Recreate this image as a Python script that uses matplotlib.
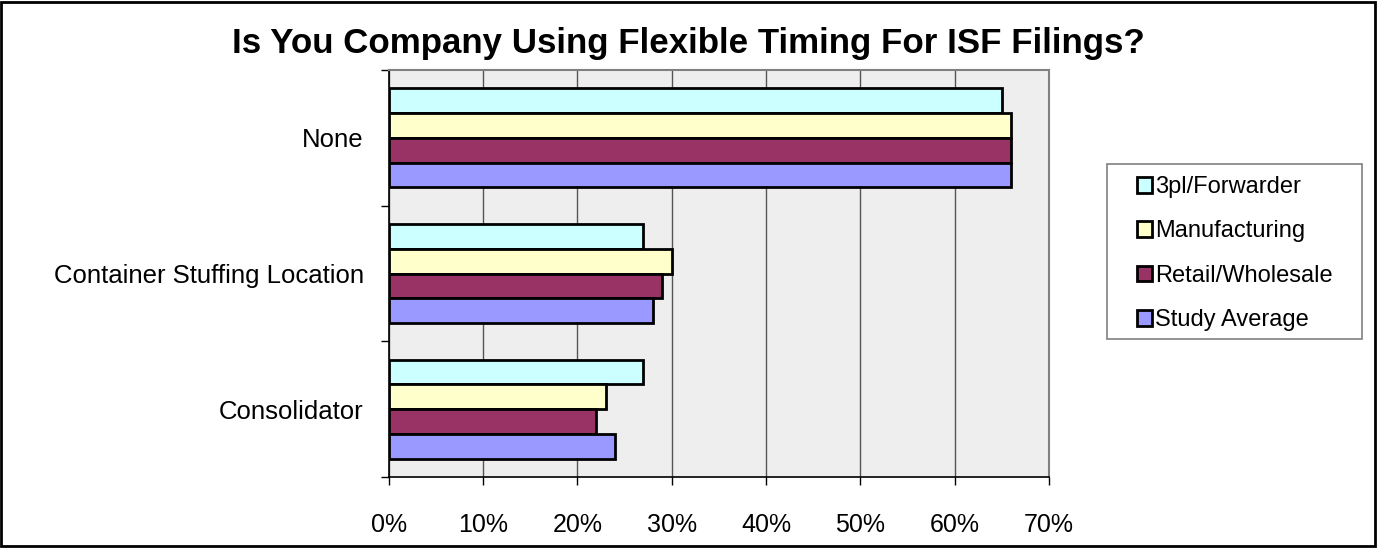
import matplotlib
matplotlib.use("Agg")
import matplotlib.pyplot as plt
from matplotlib.patches import Rectangle
from matplotlib.ticker import FixedLocator, FuncFormatter
import numpy as np

plt.rcParams['font.family'] = ['Liberation Sans', 'DejaVu Sans']

title = "Is You Company Using Flexible Timing For ISF Filings?"
categories = ["Consolidator", "Container Stuffing Location", "None"]
series_names = ["3pl/Forwarder", "Manufacturing", "Retail/Wholesale", "Study Average"]
series_values = {
    "3pl/Forwarder":    [27, 27, 65],
    "Manufacturing":    [23, 30, 66],
    "Retail/Wholesale": [22, 29, 66],
    "Study Average":    [24, 28, 66],
}
colors = ["#CCFFFF", "#FFFFCC", "#993366", "#9999FF"]
x_ticks = [0, 10, 20, 30, 40, 50, 60, 70]

W, H = 1377, 548
fig = plt.figure(figsize=(W / 100, H / 100), dpi=100)
ax = fig.add_axes([388.7 / W, 1 - 477 / H, (1049 - 388.7) / W, (477 - 70) / H])
ax.set_facecolor("#EEEEEE")

bar_h = 0.183
y = np.arange(len(categories))
for i, name in enumerate(series_names):
    offs = (1.5 - i) * bar_h
    ax.barh(y + offs, series_values[name], height=bar_h, color=colors[i],
            edgecolor="black", linewidth=2.0, label=name, zorder=3)

ax.set_xlim(0, 70)
ax.set_ylim(-0.5, 2.5)
ax.xaxis.set_major_locator(FixedLocator(x_ticks))
ax.xaxis.set_major_formatter(FuncFormatter(lambda v, p: f"{int(v)}%"))
ax.grid(axis="x", color="#555555", linewidth=1.0, zorder=1)

ax.set_yticks(y)
ax.set_yticklabels(categories)
ax.set_yticks([-0.5, 0.5, 1.5, 2.5], minor=True)
ax.tick_params(axis="y", which="major", length=0, pad=18, labelsize=18.5)
ax.tick_params(axis="y", which="minor", length=6, width=1, color="black", direction="out")
ax.tick_params(axis="x", which="major", length=6, width=1, color="black",
               direction="out", pad=20, labelsize=18)

for s in ["top", "right"]:
    ax.spines[s].set_color("#808080")
    ax.spines[s].set_linewidth(1.5)
for s in ["left", "bottom"]:
    ax.spines[s].set_color("black")
    ax.spines[s].set_linewidth(1.2)

fig.text((232 + 1145) / 2 / W, 1 - 43 / H, title, ha="center", va="center",
         fontsize=25.1, fontweight="bold")

# legend frame
fig.patches.append(Rectangle((1107 / W, 1 - 339 / H), (1362 - 1107) / W, (339 - 164) / H,
                             transform=fig.transFigure, fill=False,
                             edgecolor="#808080", linewidth=1.2, zorder=-1))
leg = fig.legend(loc="upper left", bbox_to_anchor=(1137 / W, 1 - 176 / H),
                 bbox_transform=fig.transFigure, fontsize=17, frameon=False,
                 handlelength=0.64, handleheight=0.64, handletextpad=0.13,
                 labelspacing=0.95, borderpad=0, borderaxespad=0)
for h in leg.legend_handles:
    h.set_linewidth(2.0)

fig.patches.append(Rectangle((1 / W, 2 / H), (W - 3) / W, (H - 4) / H,
                             transform=fig.transFigure, fill=False,
                             edgecolor="black", linewidth=2, zorder=-1))

fig.savefig("out.png", dpi=100)
